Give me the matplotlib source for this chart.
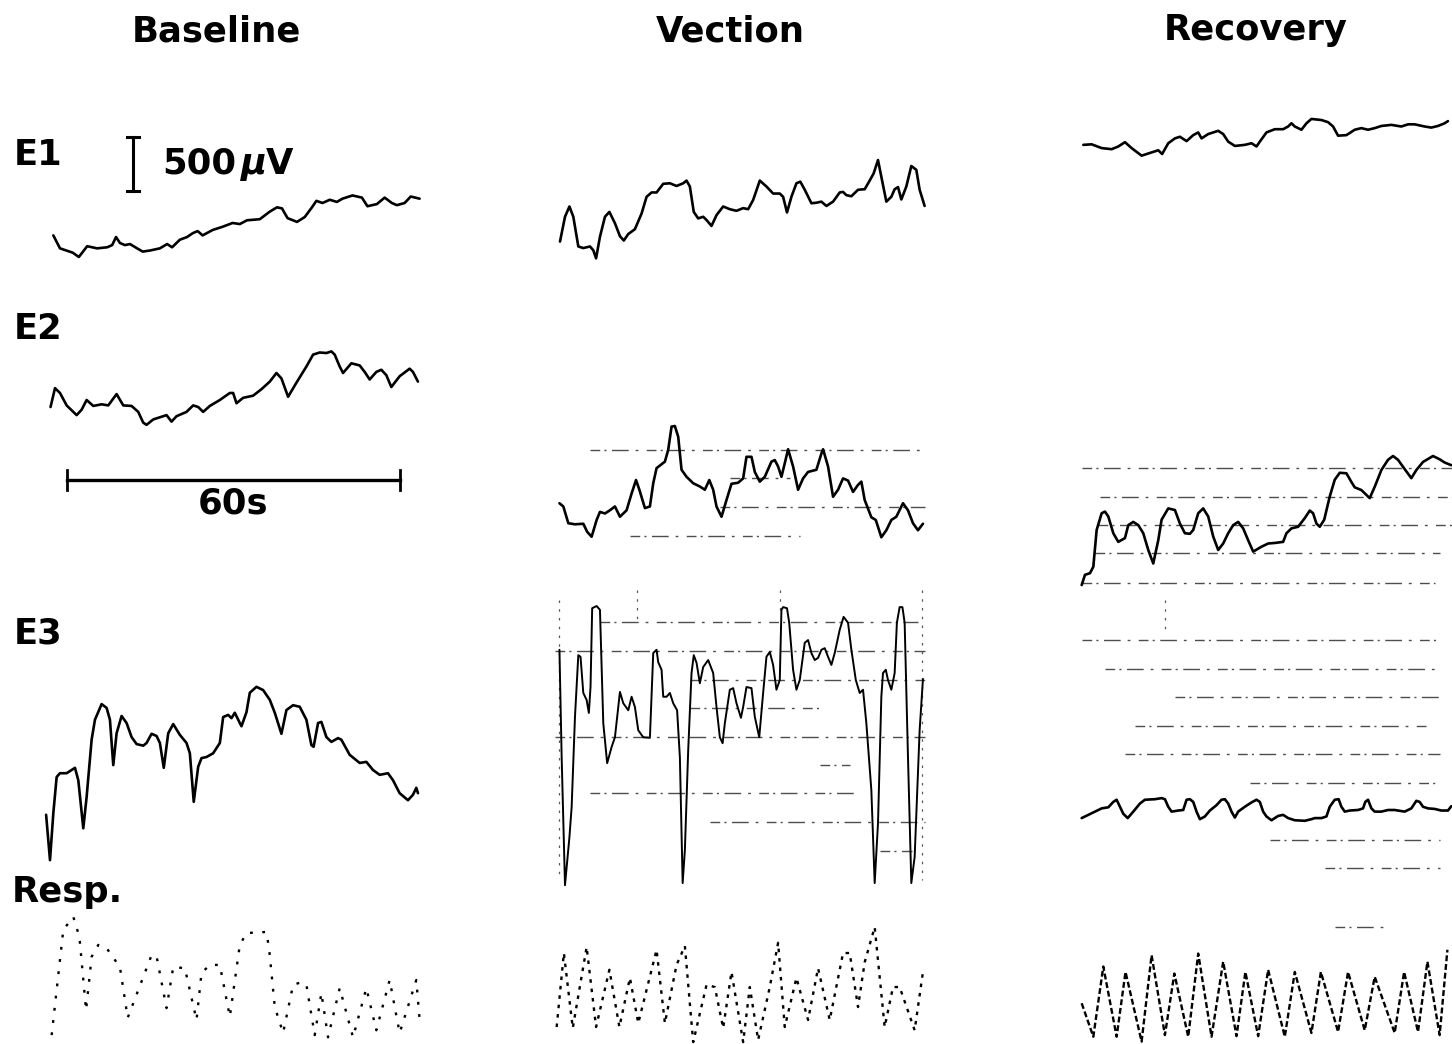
import matplotlib
matplotlib.use("Agg")
import numpy as np
import matplotlib.pyplot as plt


# =========================================================
# SCALES
# =========================================================

W_PX, H_PX = 1452, 1044
DPI = 100
PX_PER_S = 5.55      # chart speed, 60 s -> 333 px
UV_PER_PX = 9.26     # gain, 500 uV -> 54 px

SCALE_UV = 500
SCALE_S = 60

CONDITIONS = ["Baseline", "Vection", "Recovery"]
CHANNELS = ["E1", "E2", "E3", "Resp."]

# =========================================================
# TRACES: time from column start (s), amplitude (uV)
# =========================================================

base_e1_t = [1.5, 2.7, 5.0, 6.1, 7.6, 9.4, 11.2, 12.1, 12.8, 13.5, 14.4, 15.3, 16.6, 17.6, 18.9,
             20.7, 22.0, 22.9, 24.3, 25.6, 26.6, 27.5, 28.4, 30.2, 32.0, 33.8, 35.1, 36.4, 38.7,
             40.5, 41.8, 42.7, 43.7, 45.4, 46.8, 48.1, 48.9, 50.0, 51.3, 52.6, 53.6, 55.4, 57.1,
             58.1, 59.8, 61.2, 62.5, 63.4, 64.8, 65.9, 67.5]
base_e1_v = [-50, -170, -210, -250, -150, -170, -160, -140, -65, -120, -140, -130, -170, -200, -190,
             -170, -130, -160, -90, -65, -30, -10, -50, 0, 30, 65, 55, 90, 100,
             170, 210, 200, 110, 75, 120, 210, 270, 250, 280, 260, 290, 320, 300,
             220, 240, 300, 250, 230, 250, 310, 290]

base_e2_t = [1.0, 1.8, 2.7, 3.9, 5.7, 6.6, 7.5, 8.7, 10.2, 11.4, 12.9, 14.1, 15.6, 16.8, 17.7,
             18.3, 19.5, 21.9, 22.8, 23.7, 25.5, 26.7, 27.6, 28.5, 29.7, 31.5, 33.3, 33.9, 34.5,
             35.7, 37.5, 39.0, 40.5, 41.7, 42.6, 43.8, 45.3, 47.1, 48.3, 49.5, 50.7, 51.6, 52.2,
             53.1, 53.7, 55.2, 56.7, 57.6, 58.5, 59.7, 60.6, 61.5, 62.4, 63.9, 65.7, 66.3, 67.2]
base_e2_v = [-65, 110, 65, -50, -140, -90, 0, -55, -40, -50, 55, -50, -55, -110, -210,
             -230, -180, -140, -200, -150, -110, -50, -65, -110, -55, 0, 65, 65, -30,
             20, 40, 100, 170, 250, 200, 30, 160, 310, 420, 440, 435, 450, 420,
             310, 250, 340, 320, 260, 190, 260, 280, 230, 120, 220, 290, 260, 170]

base_e3_t = [0.2, 0.9, 1.5, 2.1, 2.7, 3.9, 5.4, 6.0, 6.9, 7.5, 8.4, 9.0, 10.2, 11.1, 11.7,
             12.3, 12.9, 13.8, 14.7, 15.6, 16.5, 17.7, 18.3, 19.2, 20.1, 20.7, 21.4, 22.2, 23.1,
             24.3, 25.5, 26.1, 26.8, 27.6, 28.2, 29.1, 30.3, 31.5, 32.1, 33.0, 33.6, 34.2, 35.1,
             35.4, 36.3, 36.9, 38.1, 39.3, 40.5, 41.4, 42.6, 43.5, 44.7, 45.9, 47.1, 48.0, 48.4,
             49.2, 49.8, 50.7, 51.6, 52.8, 53.4, 54.9, 56.7, 57.9, 59.1, 60.3, 61.8, 62.7, 63.9,
             65.4, 66.3, 66.9, 67.2]
base_e3_v = [-600, -1020, -585, -250, -215, -215, -165, -280, -725, -435, 95, 280, 425, 390, 280,
             -140, 155, 315, 250, 120, 55, 40, 65, 150, 130, 65, -165, 155, 240,
             140, 65, -30, -480, -155, -75, -65, -30, 65, 305, 325, 295, 345, 250,
             220, 350, 530, 585, 555, 465, 345, 150, 370, 415, 400, 280, 45, 30,
             250, 260, 120, 75, 110, 95, -45, -120, -110, -185, -230, -215, -280, -400,
             -465, -415, -350, -400]

base_resp_t = [1.2, 3.3, 5.1, 6.2, 7.4, 8.4, 9.6, 11.1, 13.5, 14.9, 19.2, 20.1, 21.9, 23.1, 25.2,
               27.3, 28.2, 29.7, 31.5, 33.3, 35.1, 36.3, 39.9, 40.4, 41.4, 42.9, 44.7, 46.2, 47.1,
               48.6, 49.8, 51.0, 53.1, 55.5, 57.9, 59.7, 62.1, 63.9, 66.9, 67.5]
base_resp_v = [-325, 650, 770, 585, -95, 400, 510, 480, 305, -165, 415, 405, -75, 305, 295,
               -185, 250, 325, 325, -155, 510, 620, 630, 465, -65, -305, 140, 165, 140,
               -325, 65, -345, 110, -345, 110, -280, 185, -305, 185, -185]

vec_e1_t = [0.9, 1.8, 2.6, 3.3, 4.2, 5.1, 6.3, 6.9, 7.4, 8.1, 9.0, 9.8, 10.8, 11.7, 12.4,
            13.2, 14.4, 15.6, 16.5, 17.4, 18.3, 19.5, 20.7, 21.9, 23.1, 23.7, 24.3, 25.0, 25.8,
            26.7, 27.3, 28.2, 29.1, 30.3, 31.5, 32.7, 33.9, 34.8, 35.7, 36.9, 38.1, 39.3, 40.5,
            41.1, 41.8, 42.6, 43.5, 44.2, 45.0, 46.2, 47.1, 48.0, 48.9, 50.1, 51.3, 51.9, 52.5,
            53.4, 54.6, 55.8, 56.7, 57.4, 58.2, 58.8, 59.7, 60.6, 61.2, 61.8, 62.4, 63.3, 64.2,
            65.1, 65.7, 66.6]
vec_e1_v = [-200, 30, 125, 30, -245, -260, -245, -280, -355, -155, 30, 75, -30, -150, -190,
            -130, -85, 60, 215, 255, 255, 335, 340, 315, 340, 365, 310, 75, 15,
            30, 0, -55, 45, 125, 100, 85, 110, 100, 185, 365, 310, 245, 245,
            215, 70, 215, 340, 355, 280, 155, 160, 170, 130, 170, 255, 260, 230,
            220, 280, 285, 365, 430, 555, 400, 170, 215, 285, 305, 190, 310, 500,
            465, 280, 130]

vec_e2_t = [0.8, 1.5, 2.4, 3.6, 5.1, 5.8, 6.6, 7.5, 8.1, 9.0, 9.9, 10.8, 11.7, 12.9, 13.8,
            14.6, 15.2, 16.2, 17.1, 17.7, 18.3, 19.8, 20.4, 21.0, 21.6, 22.2, 22.8, 23.7, 24.9,
            26.1, 27.0, 27.8, 28.5, 29.1, 30.0, 30.9, 31.8, 33.0, 33.9, 34.5, 35.4, 36.0, 36.9,
            37.8, 39.0, 39.6, 40.2, 40.8, 41.4, 42.0, 42.9, 43.8, 44.7, 45.6, 47.1, 48.0, 48.3,
            49.2, 50.1, 51.0, 51.9, 52.8, 53.7, 54.6, 55.2, 55.8, 57.0, 57.8, 58.8, 59.7, 60.6,
            61.5, 62.7, 63.6, 64.5, 65.4, 66.3]
vec_e2_v = [-30, -60, -215, -225, -220, -295, -340, -185, -110, -125, -95, -60, -155, -95, 60,
            185, 95, -75, -60, 155, 295, 355, 465, 680, 685, 585, 280, 215, 155,
            125, 95, 185, 95, -60, -155, 0, 150, 160, 200, 400, 400, 260, 170,
            215, 355, 370, 310, 215, 340, 470, 310, 95, 200, 260, 280, 430, 470,
            310, 30, 95, 200, 180, 75, 140, 170, 0, -160, -185, -345, -280, -185,
            -155, -30, -95, -215, -280, -220]

vec_e3_t = [0.8, 1.2, 1.8, 2.6, 3.0, 3.6, 4.2, 4.6, 5.1, 5.7, 6.1, 6.4, 6.7, 7.5, 8.1,
            8.7, 9.4, 10.2, 10.8, 11.7, 12.3, 13.2, 13.8, 14.4, 15.0, 15.9, 17.1, 17.7, 18.3,
            18.6, 19.2, 19.5, 20.1, 20.7, 21.3, 22.0, 22.5, 23.0, 23.4, 24.0, 24.6, 25.0, 25.5,
            26.1, 26.7, 27.6, 28.5, 29.1, 29.7, 30.2, 30.6, 31.5, 32.1, 32.7, 33.5, 33.9, 34.5,
            35.4, 36.0, 36.8, 37.5, 38.1, 38.7, 39.3, 39.9, 40.5, 40.8, 41.1, 41.8, 42.2, 42.9,
            43.5, 44.1, 45.0, 45.6, 46.2, 46.8, 47.4, 48.0, 48.6, 49.2, 49.8, 50.4, 51.3, 52.0,
            52.8, 53.4, 54.2, 54.9, 55.5, 56.1, 57.0, 57.6, 58.2, 58.8, 59.1, 59.6, 60.0, 60.6,
            61.2, 61.6, 62.1, 62.6, 63.0, 63.6, 64.2, 64.8, 65.7, 66.3]
vec_e3_v = [465, -530, -1715, -1270, -990, -155, 415, 400, 65, 0, -120, 120, 850, 870, 835,
            -215, -585, -435, -345, 75, -30, -95, 30, -65, -280, -345, -350, 435, 465,
            350, 280, 30, 30, 65, -30, -95, -530, -1695, -1390, -465, 250, 415, 345,
            155, 305, 370, 250, -65, -345, -400, -215, 95, 110, -30, -165, -65, 120,
            110, -155, -345, 65, 400, 445, 325, 95, 185, 835, 860, 850, 715, 280,
            95, 185, 530, 555, 435, 370, 390, 465, 480, 400, 325, 435, 650, 770,
            715, 465, 185, 65, 95, -215, -835, -1695, -1140, 30, 250, 280, 185, 95,
            250, 715, 860, 860, 715, -530, -1695, -1455, -280, 195]

vec_resp_t = [0.3, 1.6, 3.2, 5.7, 7.4, 9.8, 11.6, 13.5, 15.0, 18.3, 19.8, 21.9, 23.4, 24.9, 27.3,
              28.8, 30.3, 31.8, 33.9, 35.1, 36.6, 38.7, 40.2, 41.4, 43.5, 45.6, 47.4, 49.5, 51.9,
              53.1, 54.6, 55.8, 57.6, 59.4, 60.9, 62.1, 64.8, 66.3]
vec_resp_v = [-250, 435, -260, 490, -250, 280, -250, 205, -215, 465, -215, 325, 500, -390, 140,
              120, -260, 260, -390, 120, -370, 120, 530, -250, 205, -185, 295, -185, 435,
              435, -65, 350, 675, -250, 120, 120, -280, 260]

rec_e1_t = [0.6, 2.1, 3.9, 5.7, 6.9, 8.1, 9.3, 11.1, 12.3, 14.1, 14.8, 15.9, 17.1, 18.0, 19.2,
            20.4, 21.3, 21.9, 23.1, 24.9, 25.8, 26.7, 27.9, 29.7, 30.9, 31.8, 32.4, 33.6, 35.1,
            36.6, 37.5, 38.1, 38.7, 39.9, 40.8, 41.7, 43.5, 44.7, 45.6, 46.5, 48.0, 49.5, 50.7,
            51.9, 53.1, 54.3, 56.1, 57.9, 59.1, 60.3, 62.1, 63.3, 64.5, 65.7, 66.3]
rec_e1_v = [-45, -40, -75, -85, -60, -20, -75, -145, -125, -95, -130, -30, 15, 30, -10,
            45, 70, 15, 55, 85, 55, -15, -55, -45, -30, -60, -15, 70, 100,
            100, 125, 155, 125, 95, 155, 195, 185, 165, 125, 40, 45, 95, 110,
            95, 110, 130, 140, 125, 145, 145, 125, 115, 130, 155, 175]

rec_e2_t = [0.3, 0.9, 1.8, 2.4, 3.0, 3.9, 4.5, 5.1, 6.0, 6.9, 8.1, 8.7, 9.6, 10.5, 11.4,
            12.3, 13.2, 14.1, 14.7, 15.9, 17.1, 18.0, 18.9, 19.8, 20.4, 21.3, 22.2, 23.1, 24.0,
            24.9, 25.8, 26.7, 27.6, 28.5, 29.4, 30.3, 31.2, 32.7, 33.9, 35.1, 36.6, 37.2, 38.1,
            39.3, 40.5, 41.4, 42.0, 42.6, 43.2, 44.0, 45.0, 45.9, 46.8, 48.0, 48.9, 49.5, 50.7,
            52.2, 53.1, 54.3, 55.5, 56.4, 57.3, 58.2, 59.7, 60.6, 61.8, 63.6, 64.8, 65.7, 66.9]
rec_e2_v = [-510, -415, -400, -340, 0, 155, 170, 125, -30, -110, -75, 45, 75, 45, -30,
            -185, -310, -95, 95, 200, 185, 60, -30, -35, 0, 155, 200, 125, -60,
            -185, -125, -30, 45, 75, 15, -95, -200, -155, -125, -120, -110, -30, 15,
            30, 110, 180, 155, 60, 30, 95, 310, 465, 530, 525, 445, 395, 370,
            295, 400, 555, 650, 685, 650, 585, 480, 555, 630, 685, 655, 625, 600]

rec_e3_t = [0.3, 1.5, 2.7, 3.9, 5.1, 6.0, 6.6, 7.2, 7.8, 8.6, 9.6, 10.8, 11.7, 13.5, 14.7,
            15.3, 15.9, 16.5, 17.7, 18.6, 19.2, 19.8, 20.4, 21.0, 21.6, 22.5, 23.4, 24.6, 25.5,
            26.1, 26.7, 27.3, 27.9, 28.5, 29.7, 30.9, 31.8, 32.4, 33.0, 33.6, 34.5, 35.7, 36.6,
            37.5, 38.7, 40.5, 41.7, 42.3, 43.5, 44.4, 45.0, 45.9, 46.6, 47.1, 47.7, 48.6, 50.1,
            51.0, 51.4, 51.9, 52.5, 53.1, 54.3, 55.5, 56.7, 58.5, 59.7, 60.6, 61.2, 61.8, 62.7,
            63.9, 65.1, 66.3, 66.9]
rec_e3_v = [-75, -45, -15, 15, 25, 75, 95, 30, -35, -75, -15, 60, 95, 100, 110,
            100, 30, -15, -5, 0, 95, 100, 75, -15, -85, -60, -5, 45, 95,
            100, 60, -15, -70, -15, 30, 70, 95, 75, -15, -60, -95, -55, -45,
            -75, -95, -100, -85, -75, -75, -60, 30, 95, 100, 30, -15, -5, 0,
            15, 75, 95, 15, -15, -15, 0, 0, -15, 15, 85, 75, 30, 15,
            10, -5, -5, 35]

rec_resp_t = [0.3, 2.4, 4.2, 6.6, 8.2, 11.1, 12.9, 15.3, 17.0, 19.5, 21.3, 23.7, 25.8, 28.2, 29.8,
              32.1, 33.9, 36.9, 38.7, 41.7, 43.4, 46.5, 48.3, 51.3, 53.1, 56.7, 58.4, 60.9, 62.6,
              64.8, 66.2]
rec_resp_v = [-30, -340, 310, -340, 260, -385, 415, -325, 245, -340, 430, -340, 355, -335, 260,
              -335, 280, -340, 260, -305, 260, -295, 260, -280, 215, -305, 260, -295, 355,
              -325, 465]

TRACES = {
    ("Baseline", "E1"): (base_e1_t, base_e1_v),
    ("Baseline", "E2"): (base_e2_t, base_e2_v),
    ("Baseline", "E3"): (base_e3_t, base_e3_v),
    ("Baseline", "Resp."): (base_resp_t, base_resp_v),
    ("Vection", "E1"): (vec_e1_t, vec_e1_v),
    ("Vection", "E2"): (vec_e2_t, vec_e2_v),
    ("Vection", "E3"): (vec_e3_t, vec_e3_v),
    ("Vection", "Resp."): (vec_resp_t, vec_resp_v),
    ("Recovery", "E1"): (rec_e1_t, rec_e1_v),
    ("Recovery", "E2"): (rec_e2_t, rec_e2_v),
    ("Recovery", "E3"): (rec_e3_t, rec_e3_v),
    ("Recovery", "Resp."): (rec_resp_t, rec_resp_v),
}

# =========================================================
# LAYOUT (figure pixels)
# =========================================================

COL_X0 = {"Baseline": 45, "Vection": 555, "Recovery": 1080}
TITLE_POS = {"Baseline": (216, 31), "Vection": (730, 31), "Recovery": (1256, 30)}
LABEL_POS = {"E1": (14, 155), "E2": (14, 329), "E3": (14, 634), "Resp.": (12, 892)}

TRACE_Y0 = {
    ("Baseline", "E1"): 230, ("Baseline", "E2"): 400,
    ("Baseline", "E3"): 750, ("Baseline", "Resp."): 1000,
    ("Vection", "E1"): 220, ("Vection", "E2"): 500,
    ("Vection", "E3"): 700, ("Vection", "Resp."): 1000,
    ("Recovery", "E1"): 140, ("Recovery", "E2"): 530,
    ("Recovery", "E3"): 810, ("Recovery", "Resp."): 1000,
}

# chart-paper rulings that show through the record: (y, x_from, x_to)
RULINGS = [
    (450, 590, 920), (478, 730, 790), (507, 720, 925), (536, 630, 800),
    (622, 600, 918), (651, 555, 925), (680, 690, 925), (708, 690, 820),
    (737, 555, 925), (765, 820, 850), (793, 590, 860), (822, 710, 925), (851, 880, 912),
    (468, 1082, 1452), (497, 1100, 1452), (525, 1098, 1452), (553, 1095, 1440),
    (583, 1082, 1435), (640, 1082, 1440), (669, 1105, 1440), (697, 1175, 1440),
    (726, 1135, 1430), (754, 1125, 1440), (783, 1250, 1440), (840, 1270, 1440),
    (868, 1325, 1440), (927, 1335, 1390),
]
MARKERS_V = [(559, 600, 880), (637, 590, 625), (780, 590, 610), (922, 590, 880), (1165, 600, 632)]

FONT = "DejaVu Sans"
FS = 25.5


def to_x(px):
    return px / PX_PER_S


def to_y(px):
    return (H_PX - px) * UV_PER_PX


def main():
    fig = plt.figure(figsize=(W_PX / DPI, H_PX / DPI), dpi=DPI)
    ax = fig.add_axes([0, 0, 1, 1])
    ax.set_xlim(0, to_x(W_PX))
    ax.set_ylim(0, to_y(0))
    ax.axis("off")

    # rulings
    for y, x1, x2 in RULINGS:
        ax.plot([to_x(x1), to_x(x2)], [to_y(y), to_y(y)], color="0.3", lw=1.0,
                linestyle=(0, (7, 3, 1.5, 4, 12, 5, 2, 6)), zorder=1)
    for x, y1, y2 in MARKERS_V:
        ax.plot([to_x(x), to_x(x)], [to_y(y1), to_y(y2)], color="0.35", lw=0.9,
                linestyle=(0, (2, 5)), zorder=1)

    # traces
    for (cond, ch), (t, v) in TRACES.items():
        x = to_x(COL_X0[cond]) + np.asarray(t)
        y = to_y(TRACE_Y0[(cond, ch)]) + np.asarray(v)
        if ch == "Resp.":
            style = {"Baseline": (0, (1.2, 4.0)), "Vection": (0, (1.5, 2.5)),
                     "Recovery": (0, (2.5, 1.2))}[cond]
            ax.plot(x, y, color="black", lw=1.7, linestyle=style, zorder=3)
        else:
            lw = 1.4 if (cond, ch) == ("Vection", "E3") else 1.9
            ax.plot(x, y, color="black", lw=lw, solid_joinstyle="round",
                    solid_capstyle="round", zorder=3)

    # titles and channel labels
    for cond in CONDITIONS:
        px, py = TITLE_POS[cond]
        ax.text(to_x(px), to_y(py), cond, ha="center", va="center",
                fontsize=FS, fontweight="bold", family=FONT)
    for ch in CHANNELS:
        px, py = LABEL_POS[ch]
        ax.text(to_x(px), to_y(py), ch, ha="left", va="center",
                fontsize=FS, fontweight="bold", family=FONT)

    # amplitude calibration bar
    bx = to_x(133)
    by = to_y(191)
    serif = 6 / PX_PER_S
    ax.plot([bx, bx], [by, by + SCALE_UV], color="black", lw=2.2)
    for yy in (by, by + SCALE_UV):
        ax.plot([bx - serif, bx + serif], [yy, yy], color="black", lw=2.2)
    ax.text(to_x(162), to_y(164), "500", ha="left", va="center",
            fontsize=FS, fontweight="bold", family=FONT)
    ax.text(to_x(241), to_y(164), "\u00b5", ha="left", va="center",
            fontsize=FS, fontweight="bold", fontstyle="italic", family=FONT)
    ax.text(to_x(266), to_y(164), "V", ha="left", va="center",
            fontsize=FS, fontweight="bold", family=FONT)

    # time calibration bar
    tx = to_x(67)
    ty = to_y(480)
    tick = 10 * UV_PER_PX
    ax.plot([tx, tx + SCALE_S], [ty, ty], color="black", lw=2.4)
    for xx in (tx, tx + SCALE_S):
        ax.plot([xx, xx], [ty - tick, ty + tick], color="black", lw=2.0)
    ax.text(tx + SCALE_S / 2, to_y(503), f"{SCALE_S}s", ha="center", va="center",
            fontsize=FS, fontweight="bold", family=FONT)

    fig.savefig("out.png", dpi=DPI, facecolor="white")
    plt.close(fig)


if __name__ == "__main__":
    main()
